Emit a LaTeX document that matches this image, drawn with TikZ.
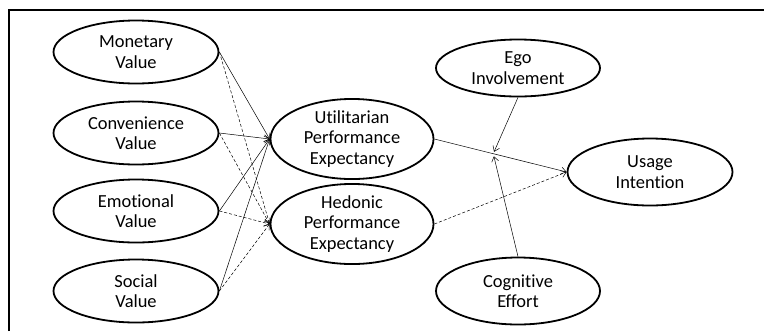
\documentclass[tikz,border=0pt]{standalone}
\usepackage{fontspec}
\setmainfont{Carlito}[RawFeature={-liga}]
\usetikzlibrary{shapes.geometric,arrows.meta,calc}
\begin{document}
\begin{tikzpicture}[x=1bp,y=-1bp,
  construct/.style={ellipse,draw,line width=1.8bp,minimum width=165bp,minimum height=63bp,
    inner sep=0pt,align=center,font=\fontsize{18.5}{20.5}\selectfont},
  link/.style={line width=0.5bp,-{Straight Barb[length=5bp,width=7bp,line width=0.5bp]}},
  dlink/.style={link,dash pattern=on 3bp off 2bp}]
\useasboundingbox (0,0) rectangle (764,331);
\draw[line width=2bp] (9,331) -- (9,10) -- (764,10);
\node[construct] (mon) at (136,52) {Monetary\\Value};
\node[construct] (con) at (136,133) {Convenience\\Value};
\node[construct] (emo) at (136,211) {Emotional\\Value};
\node[construct] (soc) at (136,291) {Social\\Value};
\node[construct,minimum width=163bp,minimum height=65bp] (uti) at (352,139) {Utilitarian\\Performance\\Expectancy};
\node[construct,minimum width=163bp,minimum height=65bp] (hed) at (352,224) {Hedonic\\Performance\\Expectancy};
\node[construct,minimum width=164bp,minimum height=57bp] (ego) at (518,68) {Ego\\Involvement};
\node[construct,minimum height=67bp] (use) at (650,172) {Usage\\Intention};
\node[construct,minimum width=164bp,minimum height=67bp] (cog) at (518,291) {Cognitive\\Effort};
\foreach \s in {mon,con,emo,soc}{
  \draw[link] (\s.east) -- (uti.west);
  \draw[dlink] (\s.east) -- (hed.west);
}
\draw[link] (uti.east) -- (use.west);
\draw[dlink] (hed.east) -- (use.west);
\coordinate (m) at ($(uti.east)!0.448!(use.west)$);
\draw[link,shorten >=1bp] (ego.south) -- ($(m)+(0,-1)$);
\draw[link,shorten >=1bp] (cog.north) -- ($(m)+(0,1.5)$);
\end{tikzpicture}
\end{document}
